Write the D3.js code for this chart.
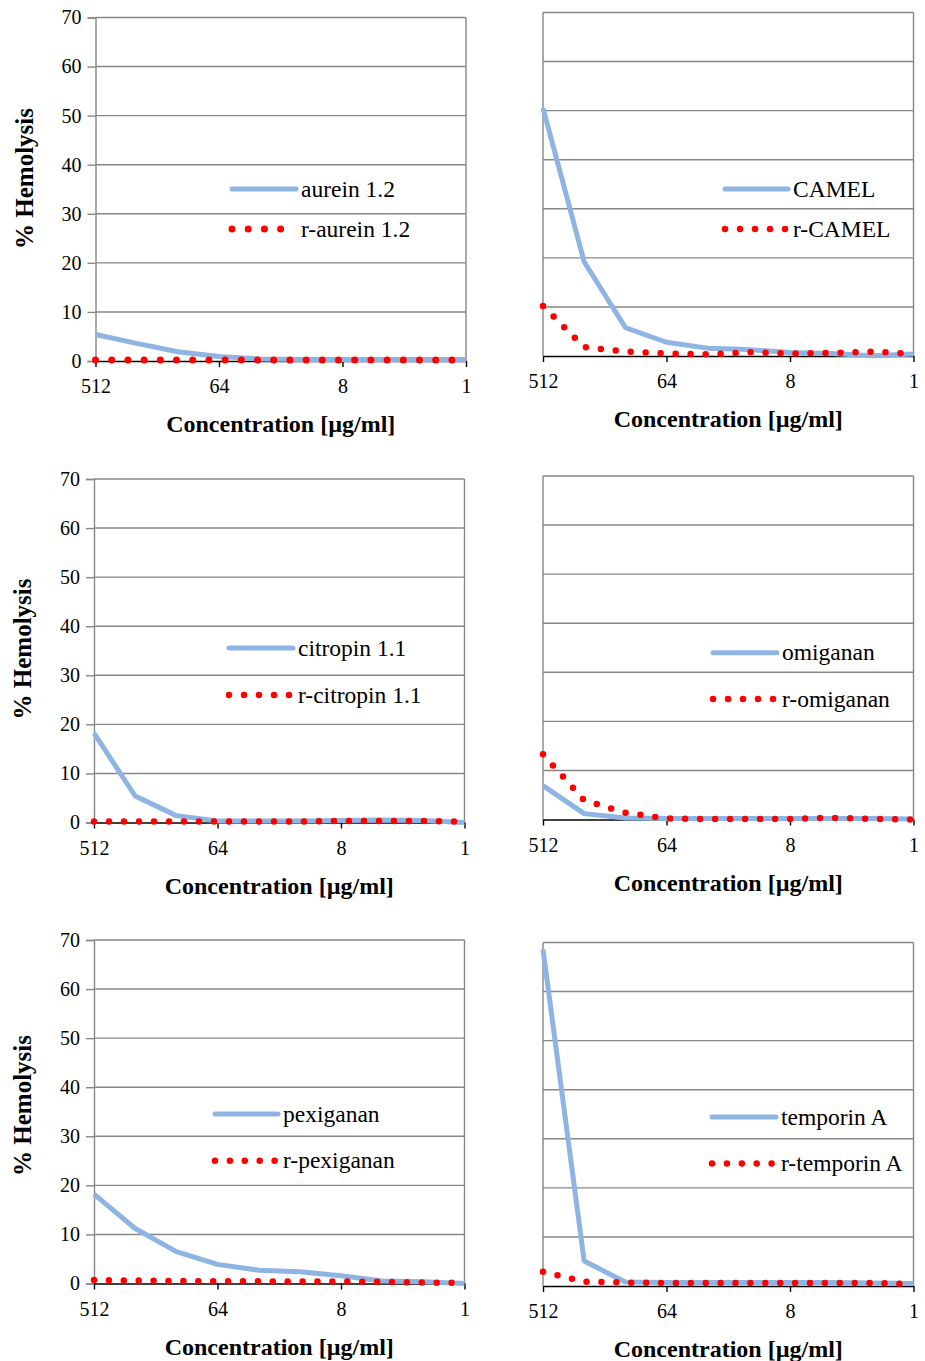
<!DOCTYPE html>
<html>
<head>
<meta charset="utf-8">
<script src="https://cdn.jsdelivr.net/npm/d3@7"></script>
<style>
  body { margin: 0; background: #fff; }
  text { font-family: "Liberation Serif", "Times New Roman", serif; fill: #000; }
</style>
</head>
<body>
<svg id="chart" width="925" height="1361"></svg>
<script>
// concentrations, highest first (two-fold dilution series)
var concentrations = [512, 256, 128, 64, 32, 16, 8, 4, 2, 1];
var xTickValues = [512, 64, 8, 1];
var yTickValues = [0, 10, 20, 30, 40, 50, 60, 70];

var aurein = [5.4, 3.6, 1.9, 0.9, 0.4, 0.3, 0.3, 0.3, 0.3, 0.3];
var rAurein = [0.2, 0.2, 0.2, 0.2, 0.2, 0.2, 0.2, 0.2, 0.2, 0.2];
var camel = [50.5, 19.2, 5.8, 2.8, 1.6, 1.3, 0.7, 0.5, 0.05, 0.4];
var rCamel = [10.2, 1.8, 0.9, 0.5, 0.35, 0.75, 0.5, 0.6, 0.9, 0.4];
var citropin = [18.2, 5.4, 1.4, 0.3, 0.3, 0.3, 0.4, 0.5, 0.4, 0.0];
var rCitropin = [0.2, 0.2, 0.2, 0.2, 0.2, 0.2, 0.3, 0.3, 0.3, 0.2];
var omiganan = [6.9, 1.2, 0.3, 0.2, 0.2, 0.2, 0.2, 0.2, 0.2, 0.1];
var rOmiganan = [13.3, 3.9, 1.4, 0.2, 0.1, 0.1, 0.1, 0.35, 0.1, 0.0];
var pexiganan = [18.2, 11.2, 6.5, 3.9, 2.7, 2.4, 1.6, 0.5, 0.35, 0.0];
var rPexiganan = [0.7, 0.6, 0.5, 0.45, 0.45, 0.4, 0.4, 0.35, 0.2, 0.1];
var temporin = [68.6, 5.1, 0.8, 0.7, 0.7, 0.7, 0.7, 0.7, 0.6, 0.5];
var rTemporin = [2.9, 0.9, 0.7, 0.6, 0.6, 0.6, 0.6, 0.6, 0.6, 0.4];

var labels = [
  ["aurein 1.2", "r-aurein 1.2"],
  ["CAMEL", "r-CAMEL"],
  ["citropin 1.1", "r-citropin 1.1"],
  ["omiganan", "r-omiganan"],
  ["pexiganan", "r-pexiganan"],
  ["temporin A", "r-temporin A"]
];
var series = [
  [aurein, rAurein], [camel, rCamel], [citropin, rCitropin],
  [omiganan, rOmiganan], [pexiganan, rPexiganan], [temporin, rTemporin]
];

// layout of the 6 panels (plot area boxes + legend placement)
var panels = [
  { left: 95.5, top: 17.5, right: 466, bottom: 361, yaxis: true, ylab: 161,
    lx: 136.5, ly: 171.5, ly2: 211.5, lw: 64, dots: 49, gap: 16.2, dot: 7 },
  { left: 543, top: 12.5, right: 913.5, bottom: 356, yaxis: false,
    lx: 182, ly: 176.5, ly2: 216.5, lw: 63, dots: 60, gap: 15, dot: 6.5 },
  { left: 94, top: 479, right: 464.5, bottom: 822.5, yaxis: true, ylab: 170,
    lx: 135, ly: 169, ly2: 216, lw: 64, dots: 60, gap: 15, dot: 6.5 },
  { left: 543, top: 476, right: 913.5, bottom: 819.5, yaxis: false,
    lx: 170, ly: 176.7, ly2: 223, lw: 64, dots: 60, gap: 15, dot: 6.5 },
  { left: 94, top: 940, right: 464.5, bottom: 1283.5, yaxis: true, ylab: 165.5,
    lx: 121, ly: 174, ly2: 220.7, lw: 63, dots: 59.5, gap: 14.9, dot: 6.5 },
  { left: 543, top: 942.5, right: 913.5, bottom: 1286, yaxis: false,
    lx: 169, ly: 174.5, ly2: 221, lw: 64, dots: 59.5, gap: 14.9, dot: 6.5 }
];

var svg = d3.select("#chart");
var gridColor = "#878787";
var blue = "#8eb4e3";
var red = "#ff0000";
var serif = "'Liberation Serif', 'Times New Roman', serif";

panels.forEach(function (p, i) {
  var w = p.right - p.left;
  var h = p.bottom - p.top;
  var g = svg.append("g").attr("transform", "translate(" + p.left + "," + p.top + ")");

  var x = d3.scaleLog().base(2).domain([512, 1]).range([0, w]);
  var y = d3.scaleLinear().domain([0, 70]).range([h, 0]);

  // horizontal gridlines
  g.selectAll(".grid")
    .data(yTickValues.slice(1))
    .enter()
    .append("line")
    .attr("x1", 0)
    .attr("x2", w)
    .attr("y1", function (d) { return y(d); })
    .attr("y2", function (d) { return y(d); })
    .attr("stroke", gridColor)
    .attr("stroke-width", 1.4);

  // plot area border (right side)
  g.append("line").attr("x1", w).attr("x2", w).attr("y1", 0).attr("y2", h)
    .attr("stroke", gridColor).attr("stroke-width", 1.4);

  // y axis
  if (p.yaxis) {
    var yAxis = d3.axisLeft(y).tickValues(yTickValues).tickSize(8).tickPadding(6);
    var ya = g.append("g").call(yAxis).attr("font-family", serif);
    ya.select(".domain").attr("stroke", gridColor).attr("stroke-width", 1.4);
    ya.selectAll(".tick line").attr("stroke", gridColor).attr("stroke-width", 1.4);
    ya.selectAll(".tick text")
      .style("font-family", serif)
      .attr("font-size", 20)
      .attr("fill", "#000");
    g.append("text")
      .attr("transform", "translate(" + (-63) + "," + p.ylab + ") rotate(-90)")
      .attr("text-anchor", "middle")
      .attr("font-size", 25)
      .attr("font-weight", "bold")
      .text("% Hemolysis");
  } else {
    g.append("line").attr("x1", 0).attr("x2", 0).attr("y1", 0).attr("y2", h)
      .attr("stroke", gridColor).attr("stroke-width", 1.4);
  }

  // x axis
  var xAxis = d3.axisBottom(x).tickValues(xTickValues).tickFormat(d3.format("d"))
    .tickSize(6).tickSizeOuter(0).tickPadding(12);
  var xa = g.append("g").attr("transform", "translate(0," + h + ")").call(xAxis)
    .attr("font-family", serif);
  xa.select(".domain").attr("stroke", "#000").attr("stroke-width", 1.6);
  xa.selectAll(".tick line").attr("stroke", "#000").attr("stroke-width", 1.4);
  xa.selectAll(".tick text")
    .style("font-family", serif)
    .attr("font-size", 20)
    .attr("fill", "#000");

  g.append("text")
    .attr("x", w / 2)
    .attr("y", h + 71)
    .attr("text-anchor", "middle")
    .attr("font-size", 24)
    .attr("font-weight", "bold")
    .text("Concentration [\u00b5g/ml]");

  var line = d3.line()
    .x(function (d, j) { return x(concentrations[j]); })
    .y(function (d) { return y(d); });

  g.append("path")
    .attr("d", line(series[i][0]))
    .attr("fill", "none")
    .attr("stroke", blue)
    .attr("stroke-width", 5)
    .attr("stroke-linejoin", "round");

  g.append("path")
    .attr("d", line(series[i][1]))
    .attr("fill", "none")
    .attr("stroke", red)
    .attr("stroke-width", p.dot)
    .attr("stroke-linecap", "round")
    .attr("stroke-dasharray", "0," + p.gap);

  // legend
  var lg = g.append("g");
  lg.append("line")
    .attr("x1", p.lx).attr("x2", p.lx + p.lw)
    .attr("y1", p.ly).attr("y2", p.ly)
    .attr("stroke", blue).attr("stroke-width", 5).attr("stroke-linecap", "round");
  lg.append("text")
    .attr("x", p.lx + p.lw + 5)
    .attr("y", p.ly + 7.5)
    .attr("font-size", 23.5)
    .text(labels[i][0]);
  lg.append("line")
    .attr("x1", p.lx).attr("x2", p.lx + p.dots + 1)
    .attr("y1", p.ly2).attr("y2", p.ly2)
    .attr("stroke", red).attr("stroke-width", p.dot)
    .attr("stroke-linecap", "round")
    .attr("stroke-dasharray", "0," + p.gap);
  lg.append("text")
    .attr("x", p.lx + p.lw + 5)
    .attr("y", p.ly2 + 7.5)
    .attr("font-size", 23.5)
    .text(labels[i][1]);
});
</script>
</body>
</html>
